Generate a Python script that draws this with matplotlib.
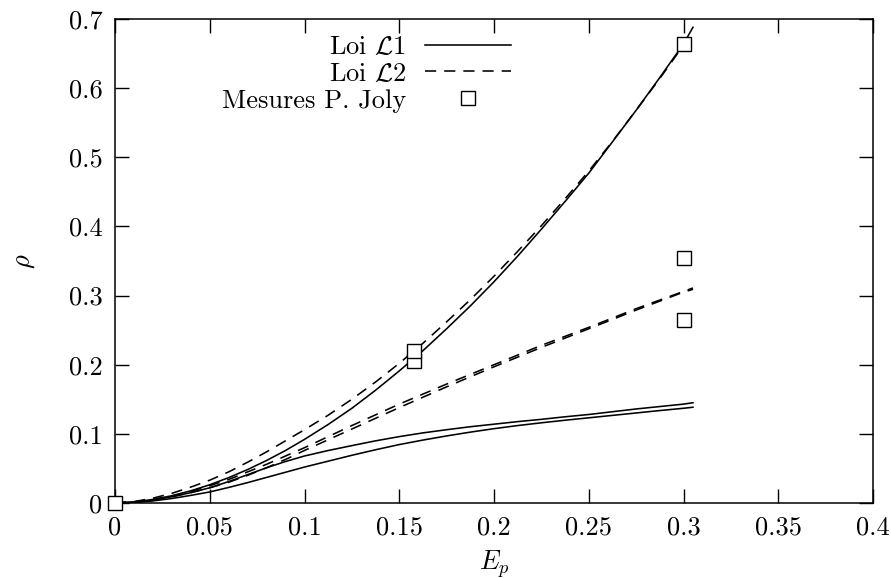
import matplotlib
matplotlib.use("Agg")
import matplotlib.pyplot as plt
from matplotlib.lines import Line2D

plt.rcParams['font.family'] = 'serif'
plt.rcParams['font.serif'] = ['cmr10']
plt.rcParams['mathtext.fontset'] = 'cm'
plt.rcParams['axes.formatter.use_mathtext'] = True

# Abscissa samples (E_p)
x = [0, 0.01, 0.02, 0.03, 0.04, 0.05, 0.06, 0.07, 0.08, 0.09, 0.1,
     0.1125, 0.125, 0.1375, 0.15, 0.1625, 0.175, 0.1875, 0.2, 0.2125,
     0.225, 0.2375, 0.25, 0.2625, 0.275, 0.2875, 0.3, 0.305]

# Loi L1 (solid)
l1_a = [0, 0.0015, 0.0051, 0.0105, 0.0176, 0.0264, 0.0367, 0.0484, 0.0615, 0.076, 0.092,
        0.1136, 0.137, 0.1631, 0.191, 0.2203, 0.252, 0.285, 0.320, 0.3571,
        0.396, 0.4361, 0.477, 0.5223, 0.568, 0.6154, 0.664, 0.688]
l1_b = [0, 0.001, 0.004, 0.009, 0.015, 0.022, 0.031, 0.041, 0.051, 0.060, 0.068,
        0.0759, 0.083, 0.0899, 0.096, 0.1014, 0.106, 0.1103, 0.114, 0.1177,
        0.121, 0.1247, 0.128, 0.132, 0.136, 0.1395, 0.143, 0.145]
l1_c = [0, 0.0008, 0.003, 0.0065, 0.011, 0.016, 0.0225, 0.0295, 0.037, 0.0445, 0.052,
        0.0605, 0.069, 0.077, 0.0845, 0.091, 0.097, 0.1025, 0.1075, 0.112,
        0.116, 0.1197, 0.1232, 0.1267, 0.1302, 0.1337, 0.137, 0.1385]

# Loi L2 (dashed)
l2_a = [0, 0.002, 0.007, 0.014, 0.023, 0.033, 0.045, 0.059, 0.074, 0.090, 0.106,
        0.127, 0.150, 0.175, 0.202, 0.231, 0.262, 0.294, 0.328, 0.364,
        0.401, 0.440, 0.480, 0.523, 0.568, 0.614, 0.662, 0.683]
l2_b = [0, 0.0015, 0.005, 0.010, 0.017, 0.025, 0.034, 0.045, 0.056, 0.068, 0.080,
        0.096, 0.112, 0.1275, 0.143, 0.1575, 0.172, 0.186, 0.200, 0.214,
        0.228, 0.241, 0.254, 0.2675, 0.281, 0.2935, 0.306, 0.311]
l2_c = [0, 0.0013, 0.0045, 0.009, 0.015, 0.022, 0.030, 0.040, 0.051, 0.063, 0.076,
        0.0915, 0.107, 0.1225, 0.138, 0.153, 0.168, 0.1825, 0.197, 0.211,
        0.225, 0.2385, 0.252, 0.2655, 0.279, 0.292, 0.305, 0.309]

# Mesures P. Joly
meas_x = [0, 0.158, 0.158, 0.3, 0.3, 0.3]
meas_y = [0, 0.205, 0.22, 0.664, 0.355, 0.265]

xticks = [0, 0.05, 0.1, 0.15, 0.2, 0.25, 0.3, 0.35, 0.4]
xtick_labels = ['0', '0.05', '0.1', '0.15', '0.2', '0.25', '0.3', '0.35', '0.4']
yticks = [0, 0.1, 0.2, 0.3, 0.4, 0.5, 0.6, 0.7]
ytick_labels = ['0', '0.1', '0.2', '0.3', '0.4', '0.5', '0.6', '0.7']

fig = plt.figure(figsize=(8.91, 5.78), dpi=100)
ax = fig.add_axes([115/891, 1-503/578, (873-115)/891, (503-19)/578])

lw = 1.15
for y in (l1_a, l1_b, l1_c):
    ax.plot(x, y, color='black', lw=lw, linestyle='-')
for y in (l2_a, l2_b, l2_c):
    ax.plot(x, y, color='black', lw=lw, linestyle=(0, (7, 5)))
ax.plot(meas_x, meas_y, linestyle='none', marker='s', markersize=9.5,
        markerfacecolor='white', markeredgecolor='black', markeredgewidth=1.0,
        clip_on=False, zorder=5)

ax.set_xlim(0, 0.4)
ax.set_ylim(0, 0.7)
ax.set_xticks(xticks)
ax.set_xticklabels(xtick_labels)
ax.set_yticks(yticks)
ax.set_yticklabels(ytick_labels)
ax.tick_params(direction='in', length=10, width=1.0, top=True, right=True,
               labelsize=19, pad=9)
for sp in ax.spines.values():
    sp.set_linewidth(1.1)

ax.set_xlabel(r'$E_p$', fontsize=19, labelpad=6)
ax.set_ylabel(r'$\rho$', fontsize=19, labelpad=23)

handles = [
    Line2D([], [], color='black', lw=lw, linestyle='-'),
    Line2D([], [], color='black', lw=lw, linestyle=(0, (7, 5))),
    Line2D([], [], linestyle='none', marker='s', markersize=9.5,
           markerfacecolor='white', markeredgecolor='black', markeredgewidth=1.0),
]
labels = [r'Loi $\mathcal{L}1$', r'Loi $\mathcal{L}2$', 'Mesures P. Joly']
ax.legend(handles, labels, loc='upper left', bbox_to_anchor=(0.117, 1.005),
          markerfirst=False, frameon=False, fontsize=19, handlelength=3.25,
          handletextpad=0.7, labelspacing=0.12, borderaxespad=0.3)

fig.savefig('out.png', dpi=100)
